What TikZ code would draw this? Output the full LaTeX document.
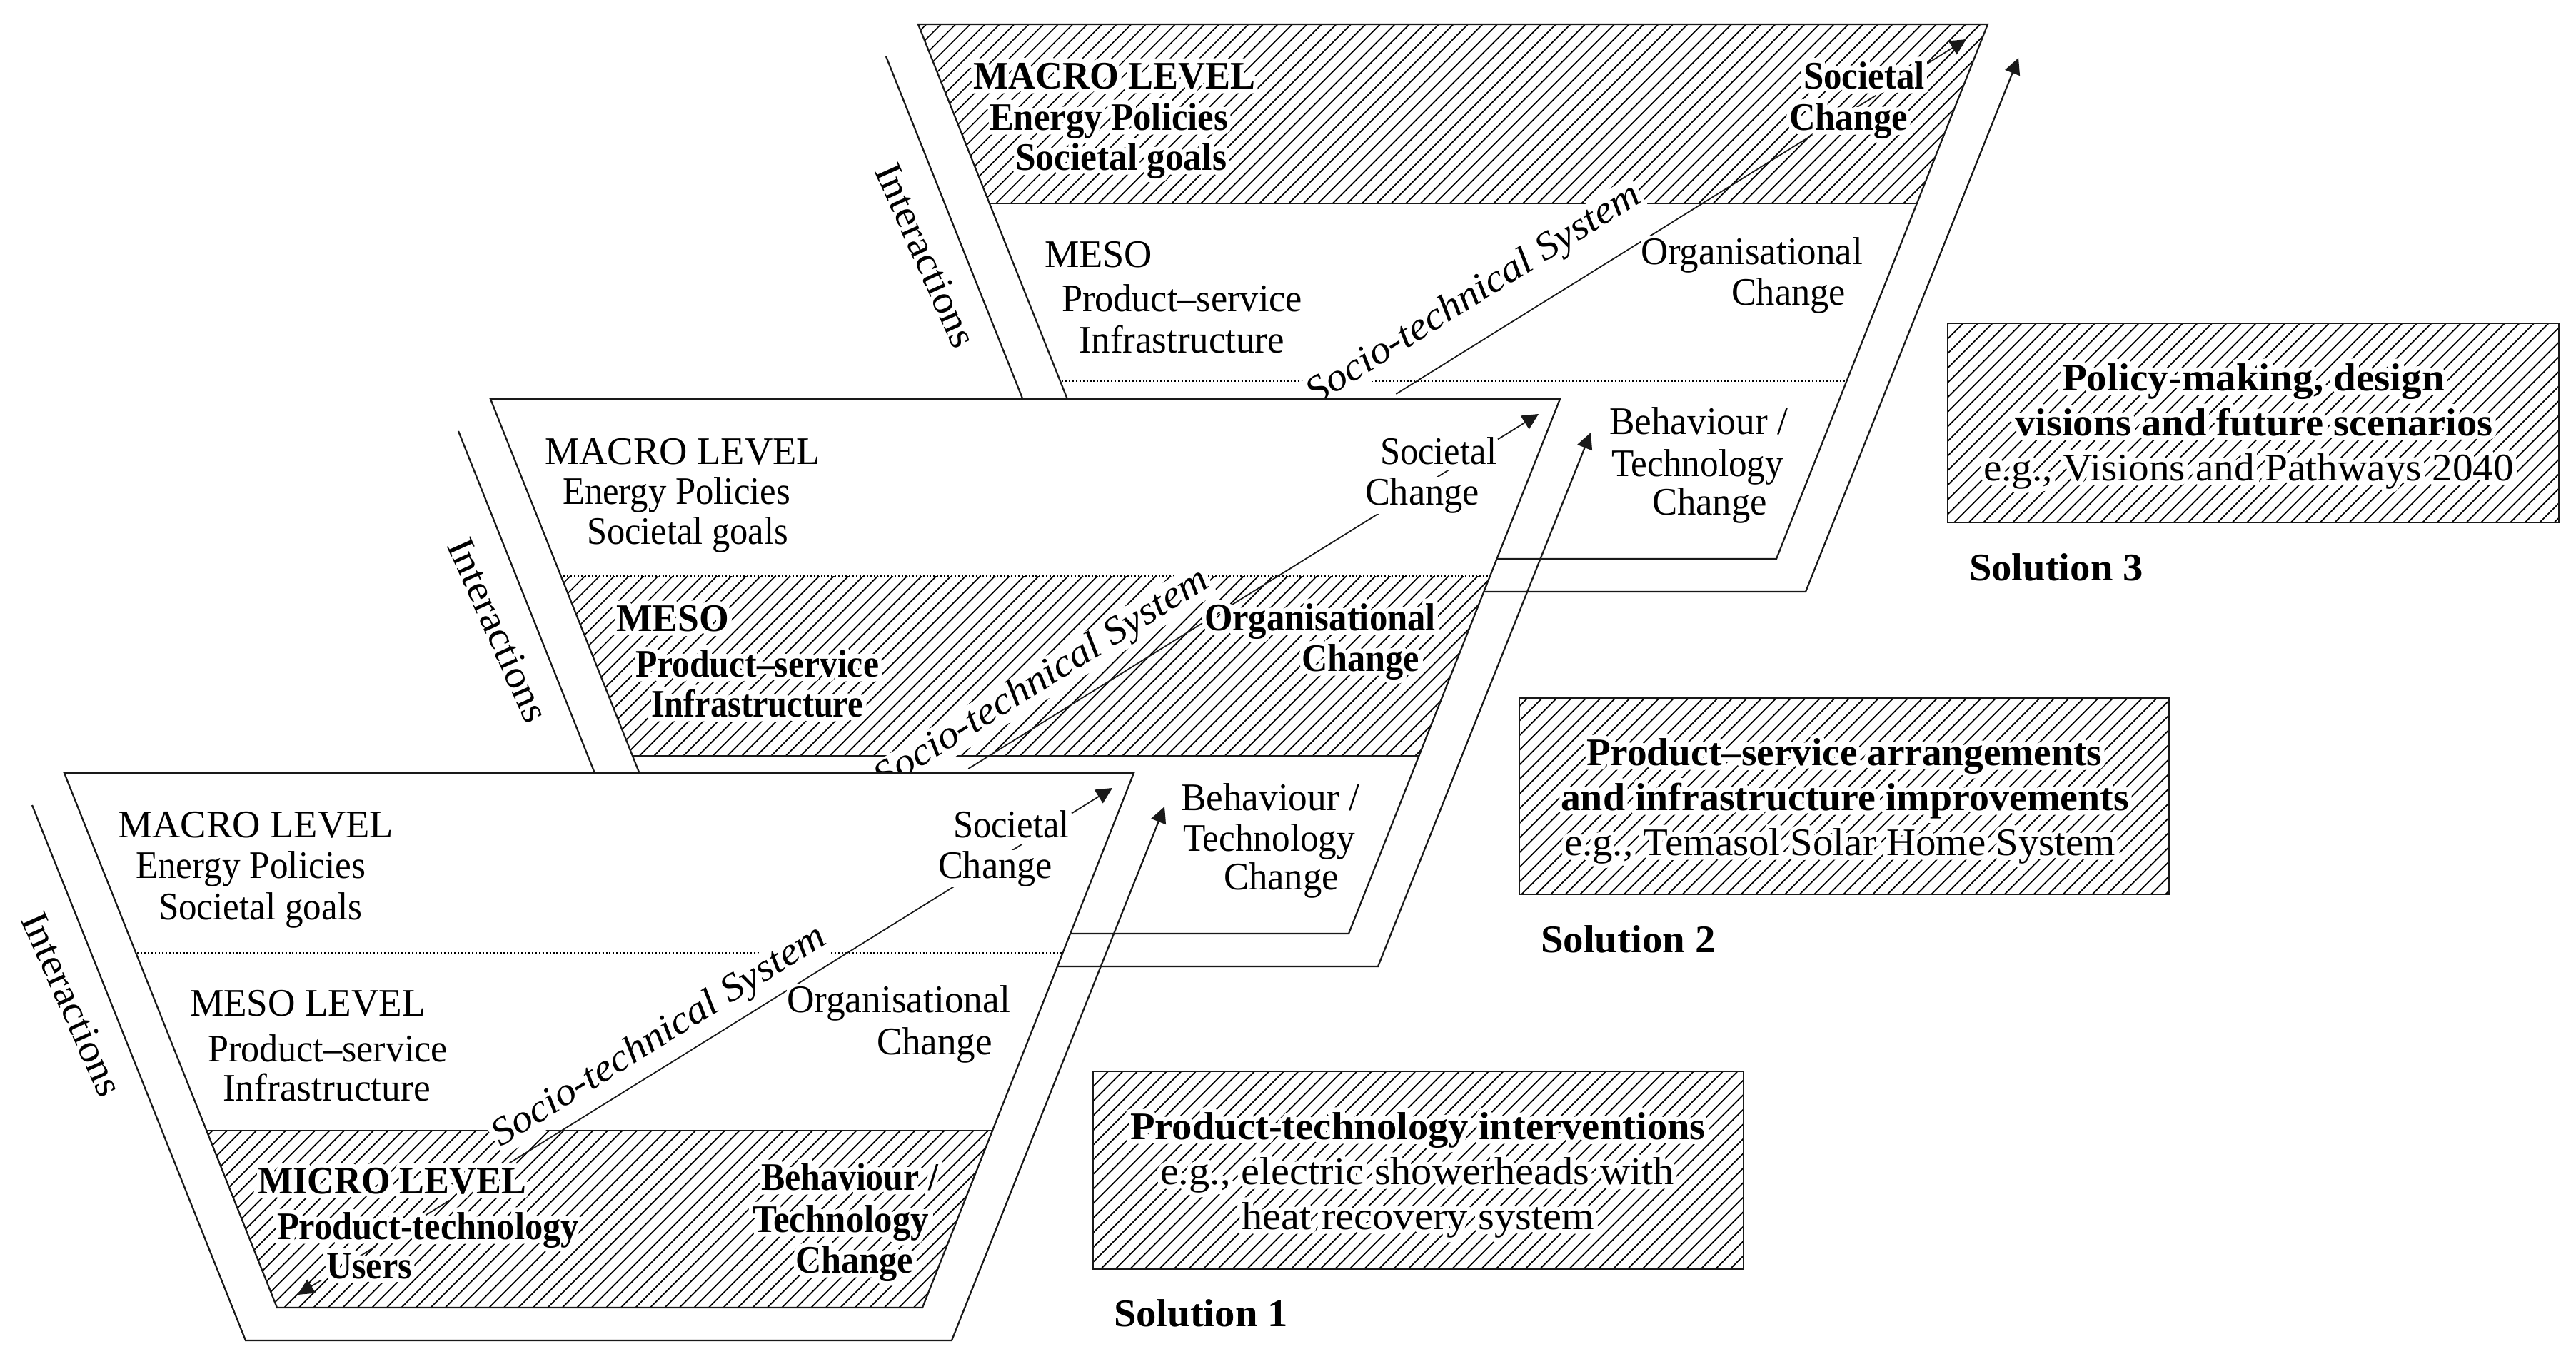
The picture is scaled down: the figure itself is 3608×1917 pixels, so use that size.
\documentclass[tikz,border=0pt]{standalone}
\usepackage{fontspec}
\usepackage{graphicx}
\usetikzlibrary{arrows.meta,calc}
\setmainfont{Liberation Serif}
\newdimen\pxu \pxu=.75pt
\newcommand{\halo}[1]{\rlap{\special{pdf:code 1 Tr 10 w 1 1 1 RG 1 j}#1\special{pdf:code 0 Tr}}#1}
\tikzset{
  lab/.style={anchor=base west,inner xsep=0pt,inner ysep=1pt,outer sep=0pt,font=\fontsize{41}{44}\selectfont},
  rot/.style={inner xsep=2pt,inner ysep=1pt,outer sep=0pt,font=\fontsize{41}{44}\selectfont},
  frameline/.style={draw=black!90,line width=1.7pt},
  thinline/.style={draw=black!90,line width=1.35pt},
  hatchline/.style={draw=black,line width=1.3pt},
  dots/.style={draw=black,line width=1.3pt,dash pattern=on 1.5pt off 2.2pt},
  tip/.style={-{Triangle[width=16.5pt,length=17pt]}}
}
% plain label, hatched-area bold label, hatched-area regular label
\newcommand{\pl}[5]{\node[lab,fill=white] (#1) at (#2,#3) {\resizebox{#4\pxu}{\height}{#5}};}
\newcommand{\hb}[5]{\node[lab] (#1) at (#2,#3) {\resizebox{#4\pxu}{\height}{\bfseries\halo{#5}}};}
\newcommand{\hr}[5]{\node[lab] (#1) at (#2,#3) {\resizebox{#4\pxu}{\height}{\halo{#5}}};}
\newcommand{\hatchlines}{\foreach \k in {0,...,260}{\draw[hatchline] (\k*20.5-1000,2000) -- (\k*20.5+1000,0);}}
% funnel: #1 name prefix, #2 dx, #3 dy, #4 hatch top, #5 hatch bottom, #6 solid lines, #7 dotted y, #8 visible pieces of the diagonal
\newcommand{\funnel}[8]{%
\begin{scope}[shift={(#2,#3)}]
  \coordinate (#1TL) at (90,1083);
  \coordinate (#1TR) at (1588,1083);
  \coordinate (#1BL) at (388,1832);
  \coordinate (#1BR) at (1292,1832);
  \coordinate (#1OL) at (45,1128);
  \coordinate (#1OB) at (344,1878);
  \coordinate (#1OC) at (1333,1878);
  \coordinate (#1OR) at (1631,1130);
  \coordinate (#1DA) at (417,1814);
  \coordinate (#1DB) at (1558,1104);
  \draw[frameline,tip] (#1OL) -- (#1OB) -- (#1OC) -- (#1OR);
  \fill[white] (#1TL) -- (#1TR) -- (#1BR) -- (#1BL) -- cycle;
  \begin{scope}
    \clip (#1TL) -- (#1TR) -- (#1BR) -- (#1BL) -- cycle;
    \clip (0,#4) rectangle (2000,#5);
    \hatchlines
  \end{scope}
  \begin{scope}
    \clip (#1TL) -- (#1TR) -- (#1BR) -- (#1BL) -- cycle;
    \foreach \yy in {#6}{\draw[frameline] (0,\yy) -- (2000,\yy);}
    \draw[dots] (0,#7) -- (2000,#7);
  \end{scope}
  \draw[frameline] (#1TL) -- (#1TR) -- (#1BR) -- (#1BL) -- cycle;
  \draw[thinline,tip] ($(#1DA)!.95!(#1DB)$) -- (#1DB);
  \draw[thinline,tip] ($(#1DA)!.029!(#1DB)$) -- (#1DA);
  \foreach \ta/\tb in {#8}{\draw[thinline] ($(#1DA)!\ta!(#1DB)$) -- ($(#1DA)!\tb!(#1DB)$);}
  \node[rot,rotate=-66] (#1int) at (101,1407) {\resizebox{276\pxu}{\height}{Interactions}};
\end{scope}}
\begin{document}
\begin{tikzpicture}[x=.75pt,y=-.75pt]
\useasboundingbox (0,0) rectangle (3608,1917);
\fill[white] (0,0) rectangle (3608,1917);

% ---------- Solution 3
\funnel{c}{1196}{-1049}{1083}{1334}{1334}{1583}{.889/.855,.811/.3}
\node[rot,fill=white,rotate=32,anchor=base] (csoc) at (2072,425) {\resizebox{541\pxu}{\height}{\itshape Socio-technical System}};
\hb{c1}{1363}{124}{395}{MACRO LEVEL}
\hb{c2}{1386}{182}{334}{Energy Policies}
\hb{c3}{1422}{238}{296}{Societal goals}
\hb{c4}{2526}{124}{170}{Societal}
\hb{c5}{2506}{182}{166}{Change}
\pl{c6}{1463}{374}{151}{MESO}
\pl{c7}{1487}{436}{337}{Product–service}
\pl{c8}{1511}{494}{288}{Infrastructure}
\pl{c9}{2298}{370}{311}{Organisational}
\pl{c10}{2425}{427}{160}{Change}
\pl{c11}{2254}{608}{250}{Behaviour /}
\pl{c12}{2257}{667}{241}{Technology}
\pl{c13}{2314}{721}{161}{Change}

% ---------- Solution 2
\funnel{b}{597}{-524}{1331}{1583}{1583}{1331}{.889/.855,.811/.3}
\node[rot,fill=white,rotate=32,anchor=base] (bsoc) at (1467,964) {\resizebox{541\pxu}{\height}{\itshape Socio-technical System}};
\pl{b1}{763}{650}{386}{MACRO LEVEL}
\pl{b2}{788}{706}{319}{Energy Policies}
\pl{b3}{822}{762}{282}{Societal goals}
\pl{b4}{1933}{650}{163}{Societal}
\pl{b5}{1912}{707}{160}{Change}
\hb{b6}{863}{884}{158}{MESO}
\hb{b7}{890}{948}{341}{Product–service}
\hb{b8}{912}{1004}{297}{Infrastructure}
\hb{b9}{1687}{883}{324}{Organisational}
\hb{b10}{1823}{940}{165}{Change}
\pl{b11}{1654}{1135}{250}{Behaviour /}
\pl{b12}{1657}{1192}{241}{Technology}
\pl{b13}{1714}{1246}{161}{Change}

% ---------- Solution 1
\funnel{a}{0}{0}{1584}{1832}{1584}{1335}{.889/.855,.811/.257,.186/.157,.0955/.076}
\node[rot,fill=white,rotate=32,anchor=base] (asoc) at (931,1464) {\resizebox{541\pxu}{\height}{\itshape Socio-technical System}};
\pl{a1}{165}{1173}{386}{MACRO LEVEL}
\pl{a2}{190}{1230}{322}{Energy Policies}
\pl{a3}{222}{1288}{285}{Societal goals}
\pl{a4}{1335}{1173}{163}{Societal}
\pl{a5}{1314}{1230}{160}{Change}
\pl{a6}{266}{1423}{330}{MESO LEVEL}
\pl{a7}{291}{1487}{336}{Product–service}
\pl{a8}{312}{1542}{291}{Infrastructure}
\pl{a9}{1102}{1418}{313}{Organisational}
\pl{a10}{1228}{1477}{162}{Change}
\hb{a11}{361}{1672}{376}{MICRO LEVEL}
\hb{a12}{388}{1736}{423}{Product-technology}
\hb{a13}{457}{1791}{120}{Users}
\hb{a14}{1066}{1667}{248}{Behaviour /}
\hb{a15}{1054}{1726}{247}{Technology}
\hb{a16}{1114}{1783}{165}{Change}

% ---------- Legend boxes
\coordinate (k1a) at (1531,1501); \coordinate (k1b) at (2442,1778);
\coordinate (k2a) at (2128,978);  \coordinate (k2b) at (3038,1253);
\coordinate (k3a) at (2728,453);  \coordinate (k3b) at (3584,732);
\foreach \n in {1,2,3}{
  \begin{scope}
    \clip (k\n a) rectangle (k\n b);
    \foreach \k in {0,...,260}{\draw[hatchline] (\k*20.5+\n*700-1000,2000) -- (\k*20.5+\n*700+1000,0);}
  \end{scope}
  \draw[frameline] (k\n a) rectangle (k\n b);
}
\hb{k11}{1583}{1596}{806}{Product-technology interventions}
\hr{k12}{1625}{1659}{720}{e.g., electric showerheads with}
\hr{k13}{1739}{1722}{494}{heat recovery system}
\hb{k21}{2222}{1072}{722}{Product–service arrangements}
\hb{k22}{2186}{1135}{796}{and infrastructure improvements}
\hr{k23}{2191}{1198}{772}{e.g., Temasol Solar Home System}
\hb{k31}{2888}{547}{536}{Policy-making, design}
\hb{k32}{2822}{610}{670}{visions and future scenarios}
\hr{k33}{2778}{673}{743}{e.g., Visions and Pathways 2040}
\node[lab,font=\fontsize{41}{44}\selectfont\bfseries] (s1) at (1560,1858) {\resizebox{244\pxu}{\height}{Solution 1}};
\node[lab,font=\fontsize{41}{44}\selectfont\bfseries] (s2) at (2158,1334) {\resizebox{245\pxu}{\height}{Solution 2}};
\node[lab,font=\fontsize{41}{44}\selectfont\bfseries] (s3) at (2758,813) {\resizebox{244\pxu}{\height}{Solution 3}};
\end{tikzpicture}
\end{document}
